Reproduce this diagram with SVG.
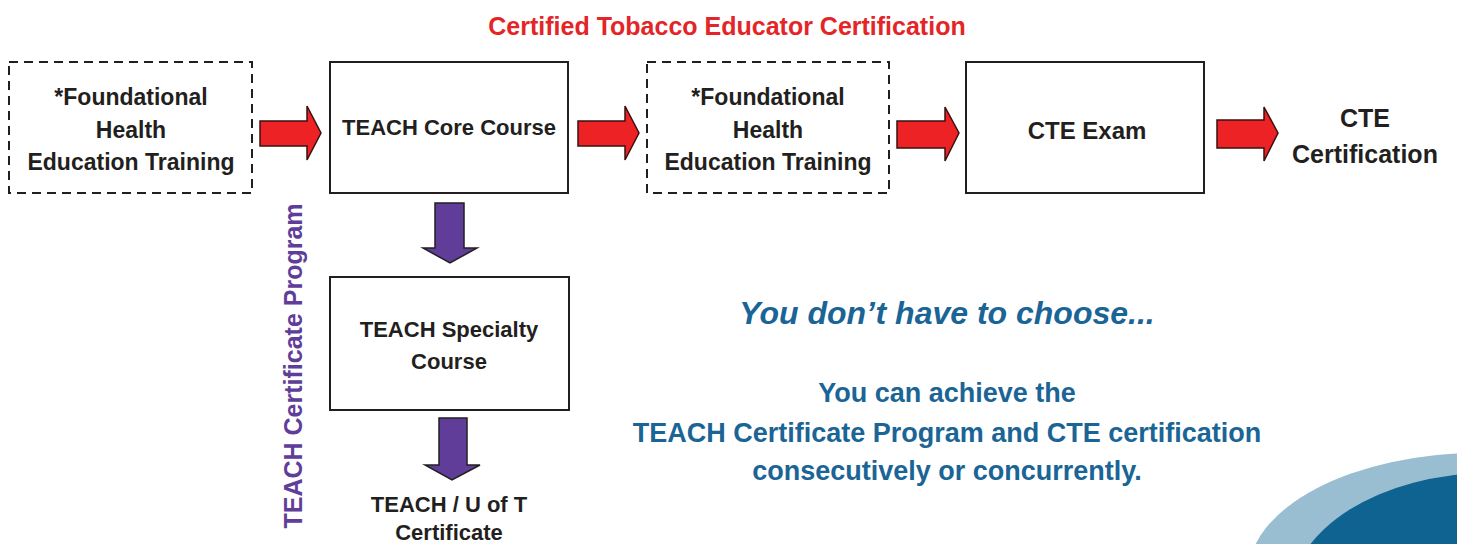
<svg xmlns="http://www.w3.org/2000/svg" width="1457" height="544" viewBox="0 0 1457 544">
<style>
.box{fill:#fff;stroke:#231f20;stroke-width:2}
.dash{stroke-dasharray:9 6}
.t{font-family:"Liberation Sans",Arial,sans-serif;font-weight:bold;font-size:22px;fill:#231f20;text-anchor:middle}
.f{font-size:23px}
.red{fill:#ed2224;stroke:#3a1010;stroke-width:1.5;stroke-linejoin:miter}
.pur{fill:#5f3d98;stroke:#231f20;stroke-width:1.5}
.blue{font-family:"Liberation Sans",Arial,sans-serif;font-weight:bold;fill:#1a6496;text-anchor:middle}
</style>
<rect width="1457" height="544" fill="#fff"/>
<ellipse cx="1480" cy="575" rx="232" ry="122" fill="#99bdd1"/>
<ellipse cx="1490" cy="600" rx="200" ry="127" fill="#0f6391"/>
<text x="727" y="35" class="t" style="fill:#e42527;font-size:25px">Certified Tobacco Educator Certification</text>
<g id="n1"><rect x="9" y="62" width="243" height="131" class="box dash"/>
<text class="t f" x="131" y="105">*Foundational</text><text class="t f" x="131" y="138">Health</text><text class="t f" x="131" y="170">Education Training</text></g>
<g id="n2"><rect x="330" y="62" width="238" height="131" class="box"/>
<text class="t" x="449" y="135">TEACH Core Course</text></g>
<g id="n3"><rect x="647" y="62" width="242" height="131" class="box dash"/>
<text class="t f" x="768" y="105">*Foundational</text><text class="t f" x="768" y="138">Health</text><text class="t f" x="768" y="170">Education Training</text></g>
<g id="n4"><rect x="966" y="62" width="238" height="131" class="box"/>
<text class="t" x="1087" y="139" style="font-size:24px">CTE Exam</text></g>
<g id="n5"><text class="t" x="1365" y="127" style="font-size:25px">CTE</text><text class="t" x="1365" y="163" style="font-size:25px">Certification</text></g>
<g id="n6"><rect x="330" y="277" width="239" height="133" class="box"/>
<text class="t" x="449" y="337">TEACH Specialty</text><text class="t" x="449" y="369">Course</text></g>
<g id="n7"><text class="t" x="449" y="512">TEACH / U of T</text><text class="t" x="449" y="540">Certificate</text></g>
<text transform="translate(302,366) rotate(-90)" class="t" style="fill:#5f3d98;font-size:25px">TEACH Certificate Program</text>
<g id="connectors">
<polygon class="red" points="260,121 307,121 307,106 321,133 307,160 307,146 260,146"/>
<polygon class="red" points="578,121 625,121 625,106 639,133 625,160 625,146 578,146"/>
<polygon class="red" points="897,121 945,121 945,107 959,133 945,161 945,148 897,148"/>
<polygon class="red" points="1217,120 1264,120 1264,107 1278,133 1264,161 1264,148 1217,148"/>
<polygon class="pur" points="435,203 464,203 464,248 477,248 450,263 423,248 435,248"/>
<polygon class="pur" points="439,418 467,418 467,465 480,465 452,480 425,465 439,465"/>
</g>
<text class="blue" x="947" y="324" style="font-size:32px;font-style:italic">You don’t have to choose...</text>
<text class="blue" x="947" y="402" style="font-size:27px">You can achieve the</text>
<text class="blue" x="947" y="442" style="font-size:27px">TEACH Certificate Program and CTE certification</text>
<text class="blue" x="947" y="480" style="font-size:27px">consecutively or concurrently.</text>
</svg>
